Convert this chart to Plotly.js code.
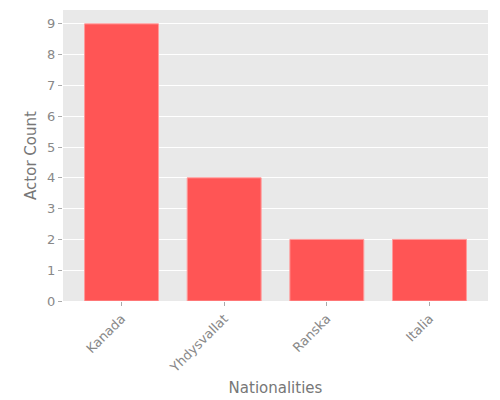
<!DOCTYPE html>
<html>
<head>
<meta charset="utf-8">
<script src="https://cdn.plot.ly/plotly-3.0.1.min.js"></script>
<style>
  html, body { margin: 0; padding: 0; background: #fff; }
  #chart { width: 500px; height: 400px; }
</style>
</head>
<body>
<div id="chart"></div>
<script>
const nationalities = ['Kanada', 'Yhdysvallat', 'Ranska', 'Italia'];
const actorCounts = [9, 4, 2, 2];

const trace = {
  x: nationalities,
  y: actorCounts,
  type: 'bar',
  marker: {
    color: '#ff5555',
    line: { color: '#ff9a9a', width: 1 }
  },
  hoverinfo: 'x+y'
};

const layout = {
  width: 500,
  height: 400,
  paper_bgcolor: '#ffffff',
  plot_bgcolor: '#e9e9e9',
  font: { family: 'DejaVu Sans, sans-serif', color: '#888888', size: 12 },
  margin: { l: 63, r: 12, t: 10, b: 99 },
  bargap: 0.28,
  showlegend: false,
  xaxis: {
    title: { text: 'Nationalities', font: { size: 15, color: '#777777' }, standoff: 8 },
    range: [-0.57, 3.57],
    tickangle: -45,
    ticks: 'outside',
    ticklen: 4,
    tickcolor: '#aaaaaa',
    showgrid: false,
    zeroline: false,
    tickfont: { size: 13, color: '#888888' }
  },
  yaxis: {
    title: { text: 'Actor Count', font: { size: 15, color: '#777777' }, standoff: 6 },
    range: [0, 9.45],
    dtick: 1,
    ticks: 'outside',
    ticklen: 4,
    tickcolor: '#aaaaaa',
    gridcolor: '#ffffff',
    gridwidth: 1,
    zeroline: false,
    tickfont: { size: 13, color: '#888888' }
  }
};

Plotly.newPlot('chart', [trace], layout, { displayModeBar: false, staticPlot: true });
</script>
</body>
</html>
